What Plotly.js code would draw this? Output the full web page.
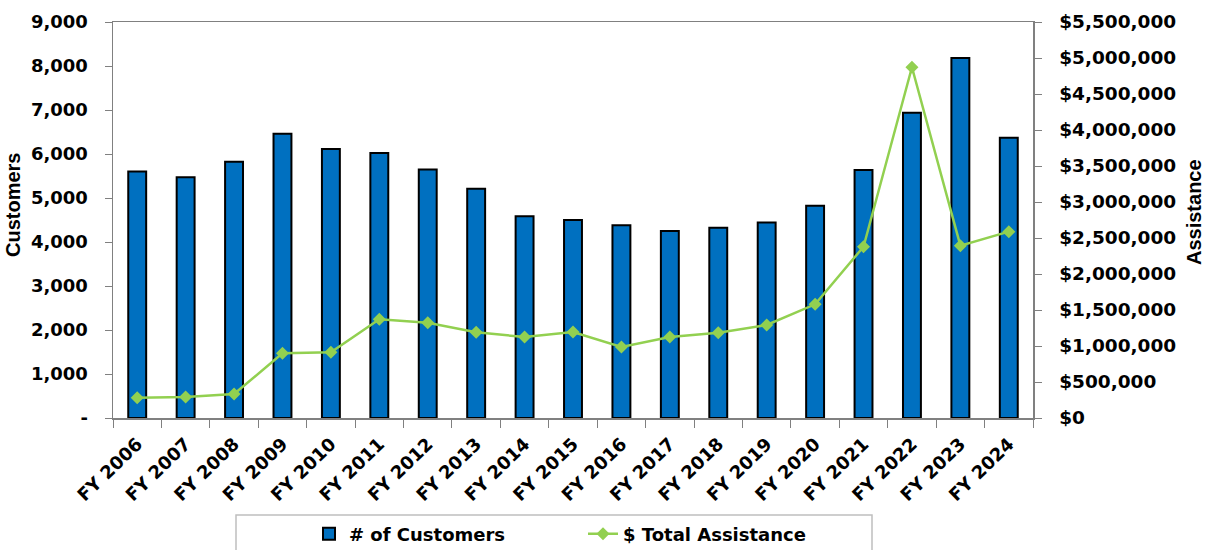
<!DOCTYPE html>
<html>
<head>
<meta charset="utf-8">
<script src="https://cdn.plot.ly/plotly-3.0.1.min.js"></script>
<style>
  html, body { margin: 0; padding: 0; background: #ffffff; }
  #chart { width: 1209px; height: 550px; }
</style>
</head>
<body>
<div id="chart"></div>
<script>
const categories = ['FY 2006','FY 2007','FY 2008','FY 2009','FY 2010','FY 2011','FY 2012','FY 2013','FY 2014','FY 2015','FY 2016','FY 2017','FY 2018','FY 2019','FY 2020','FY 2021','FY 2022','FY 2023','FY 2024'];
const customers = [5600, 5470, 5825, 6460, 6115, 6025, 5650, 5210, 4585, 4500, 4380, 4250, 4325, 4445, 4825, 5635, 6940, 8180, 6370];
const assistance = [282000, 292000, 333000, 898000, 912000, 1371000, 1324000, 1190000, 1125000, 1194000, 986000, 1125000, 1185000, 1292000, 1579000, 2379000, 4871000, 2393000, 2588000];
const custTickVals = [0, 1000, 2000, 3000, 4000, 5000, 6000, 7000, 8000, 9000];
const custTickText = ['-', '1,000', '2,000', '3,000', '4,000', '5,000', '6,000', '7,000', '8,000', '9,000'];
const seriesNames = ['# of Customers', '$ Total Assistance'];
const axisTitles = ['Customers', 'Assistance'];

const boundaries = categories.map((c, i) => i - 0.5).concat([categories.length - 0.5]);
const axisColor = '#808080';
const txtColor = '#000000';

const traces = [
  {
    type: 'bar',
    name: seriesNames[0],
    x: categories,
    y: customers,
    xaxis: 'x',
    yaxis: 'y',
    width: 0.37,
    marker: { color: '#0070C0', line: { color: '#000000', width: 2 } }
  },
  {
    type: 'scatter',
    mode: 'lines+markers',
    name: seriesNames[1],
    x: categories,
    y: assistance,
    xaxis: 'x',
    yaxis: 'y2',
    line: { color: '#92D050', width: 2.5 },
    marker: { symbol: 'diamond', size: 10, color: '#92D050' }
  }
];

const layout = {
  width: 1209,
  height: 550,
  margin: { l: 113, r: 176, t: 22, b: 132, pad: 0, autoexpand: false },
  paper_bgcolor: '#ffffff',
  plot_bgcolor: '#ffffff',
  showlegend: true,
  xaxis: {
    type: 'category',
    range: [-0.5, categories.length - 0.5],
    showline: true, linecolor: axisColor, linewidth: 1.5, mirror: true,
    ticks: 'outside', tickson: 'boundaries', ticklen: 8, tickcolor: axisColor, tickwidth: 1,
    tickangle: -44,
    ticklabelstandoff: 7,
    tickfont: { family: 'DejaVu Sans', weight: 'bold', size: 18, color: txtColor },
    showgrid: false, zeroline: false, automargin: false, fixedrange: true
  },
  xaxis2: {
    overlaying: 'x', anchor: 'y', side: 'bottom',
    range: [-0.5, categories.length - 0.5],
    tickmode: 'array', tickvals: boundaries,
    ticks: 'inside', ticklen: 6, tickcolor: axisColor, tickwidth: 1,
    showticklabels: false, showline: false, showgrid: false, zeroline: false, automargin: false
  },
  yaxis: {
    range: [0, 9000],
    tickmode: 'array', tickvals: custTickVals, ticktext: custTickText,
    ticks: 'outside', ticklen: 7, tickcolor: axisColor, tickwidth: 1,
    ticklabelstandoff: 13,
    tickfont: { family: 'DejaVu Sans', weight: 'bold', size: 18, color: txtColor },
    showline: true, linecolor: axisColor, linewidth: 1.5,
    showgrid: false, zeroline: false, automargin: false, fixedrange: true
  },
  yaxis3: {
    overlaying: 'y', anchor: 'x', side: 'left',
    range: [0, 9000], tickmode: 'array', tickvals: custTickVals,
    ticks: 'inside', ticklen: 7, tickcolor: axisColor, tickwidth: 1,
    showticklabels: false, showline: false, showgrid: false, zeroline: false, automargin: false
  },
  yaxis2: {
    overlaying: 'y', anchor: 'x', side: 'right',
    range: [0, 5500000], dtick: 500000, tick0: 0,
    tickprefix: '$', tickformat: ',d',
    ticks: 'outside', ticklen: 7, tickcolor: axisColor, tickwidth: 1,
    ticklabelstandoff: 14,
    tickfont: { family: 'DejaVu Sans', weight: 'bold', size: 18.5, color: txtColor },
    showline: true, linecolor: axisColor, linewidth: 1.5,
    showgrid: false, zeroline: false, automargin: false, fixedrange: true
  },
  yaxis4: {
    overlaying: 'y', anchor: 'x', side: 'right',
    range: [0, 5500000], dtick: 500000, tick0: 0,
    ticks: 'inside', ticklen: 7, tickcolor: axisColor, tickwidth: 1,
    showticklabels: false, showline: false, showgrid: false, zeroline: false, automargin: false
  },
  legend: {
    orientation: 'h',
    x: (309 - 113) / 920, xanchor: 'left',
    y: -(534 - 418) / 396, yanchor: 'middle',
    entrywidth: 229, entrywidthmode: 'pixels',
    bgcolor: 'rgba(0,0,0,0)', borderwidth: 0,
    font: { family: 'DejaVu Sans', weight: 'bold', size: 18, color: txtColor },
    traceorder: 'normal'
  },
  shapes: [
    {
      type: 'rect', xref: 'paper', yref: 'paper',
      x0: (236 - 113) / 920, x1: (872 - 113) / 920,
      y0: -(515 - 418) / 396, y1: -(565 - 418) / 396,
      line: { color: '#bfbfbf', width: 1.5 }, fillcolor: 'rgba(0,0,0,0)', layer: 'below'
    }
  ],
  annotations: [
    {
      text: axisTitles[0], xref: 'paper', yref: 'paper',
      x: (13 - 113) / 920, y: (418 - 205) / 396,
      xanchor: 'center', yanchor: 'middle', textangle: -90, showarrow: false,
      font: { family: 'Liberation Sans', weight: 'bold', size: 20, color: txtColor }
    },
    {
      text: axisTitles[1], xref: 'paper', yref: 'paper',
      x: (1194 - 113) / 920, y: (418 - 212) / 396,
      xanchor: 'center', yanchor: 'middle', textangle: -90, showarrow: false,
      font: { family: 'Liberation Sans', weight: 'bold', size: 20, color: txtColor }
    }
  ]
};

Plotly.newPlot('chart', traces, layout, { displayModeBar: false, staticPlot: true });
</script>
</body>
</html>
